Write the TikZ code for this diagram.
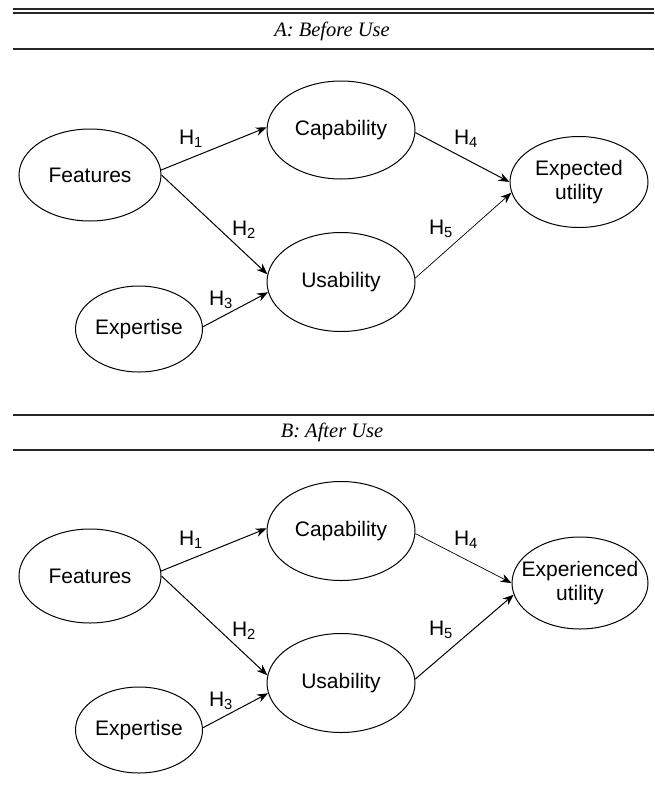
\documentclass[tikz,border=0pt]{standalone}
\usepackage{fontspec}
\setmainfont{Liberation Serif}
\setsansfont{Liberation Sans}
\usetikzlibrary{shapes.geometric, arrows.meta}
\tikzstyle{construct} = [ellipse, draw, line width=1pt,
inner sep=0pt, align=center,
font=\fontsize{21}{24}\selectfont\sffamily]
\tikzstyle{hyp} = [inner sep=0pt, font=\fontsize{21}{22}\selectfont\sffamily]
\tikzstyle{arrow} = [line width=1pt, -{Stealth[length=11pt, width=8.5pt]}]
\tikzstyle{weak} = [line width=0.7pt]
\tikzstyle{rule} = [line width=1.3pt, black!85]
\tikzstyle{paneltitle} = [inner sep=0pt, font=\fontsize{20.5}{22}\selectfont\itshape]

\begin{document}
\begin{tikzpicture}[x=1pt, y=-1pt] % one unit per pixel
\useasboundingbox (0,0) rectangle (654,804);

% panel A: before use
\draw[rule] (13,9) -- (654,9);
\draw[rule] (13,13) -- (654,13);
\node[paneltitle] (titleA) at (332,31) {A: Before Use};
\draw[rule] (13,49) -- (654,49);

\node[construct, minimum width=142pt, minimum height=92pt] (featA) at (90,175) {Features};
\node[construct, minimum width=148pt, minimum height=98pt] (capA) at (341,130) {Capability};
\node[construct, minimum width=148pt, minimum height=99pt] (usaA) at (341,282) {Usability};
\node[construct, minimum width=127pt, minimum height=86pt] (expA) at (139,329) {Expertise};
\node[construct, minimum width=138pt, minimum height=91pt, inner xsep=-10pt] (utilA) at (579,182) {Expected\\utility};

\draw[arrow] (featA.4) -- (capA.178);
\draw[arrow] (featA.0) -- (usaA.174);
\draw[arrow] (expA.2) -- (usaA.188);
\draw[arrow] (capA.358) -- (utilA.180);
\draw[arrow, weak] (usaA.3) -- (utilA.189);

\node[hyp] (hA1) at (191,139) {H\textsubscript{1}};
\node[hyp] (hA2) at (244,230) {H\textsubscript{2}};
\node[hyp] (hA3) at (221,300) {H\textsubscript{3}};
\node[hyp] (hA4) at (466,139) {H\textsubscript{4}};
\node[hyp] (hA5) at (441,229) {H\textsubscript{5}};

% panel B: after use
\begin{scope}[yshift=-401pt]
\draw[rule] (13,14) -- (654,14);
\node[paneltitle] (titleB) at (332,31) {B: After Use};
\draw[rule] (13,49) -- (654,49);

\node[construct, minimum width=142pt, minimum height=94pt] (featB) at (90,175) {Features};
\node[construct, minimum width=148pt, minimum height=99pt] (capB) at (341,130) {Capability};
\node[construct, minimum width=148pt, minimum height=99pt] (usaB) at (341,282) {Usability};
\node[construct, minimum width=127pt, minimum height=86pt] (expB) at (139,329) {Expertise};
\node[construct, minimum width=136pt, minimum height=92pt, inner xsep=-16pt] (utilB) at (580,182) {Experienced\\utility};

\draw[arrow] (featB.4) -- (capB.178);
\draw[arrow] (featB.0) -- (usaB.174);
\draw[arrow] (expB.2) -- (usaB.188);
\draw[arrow, weak] (capB.358) -- (utilB.180);
\draw[arrow] (usaB.3) -- (utilB.190);

\node[hyp] (hB1) at (191,139) {H\textsubscript{1}};
\node[hyp] (hB2) at (244,230) {H\textsubscript{2}};
\node[hyp] (hB3) at (221,300) {H\textsubscript{3}};
\node[hyp] (hB4) at (466,139) {H\textsubscript{4}};
\node[hyp] (hB5) at (441,229) {H\textsubscript{5}};
\end{scope}
\end{tikzpicture}
\end{document}
